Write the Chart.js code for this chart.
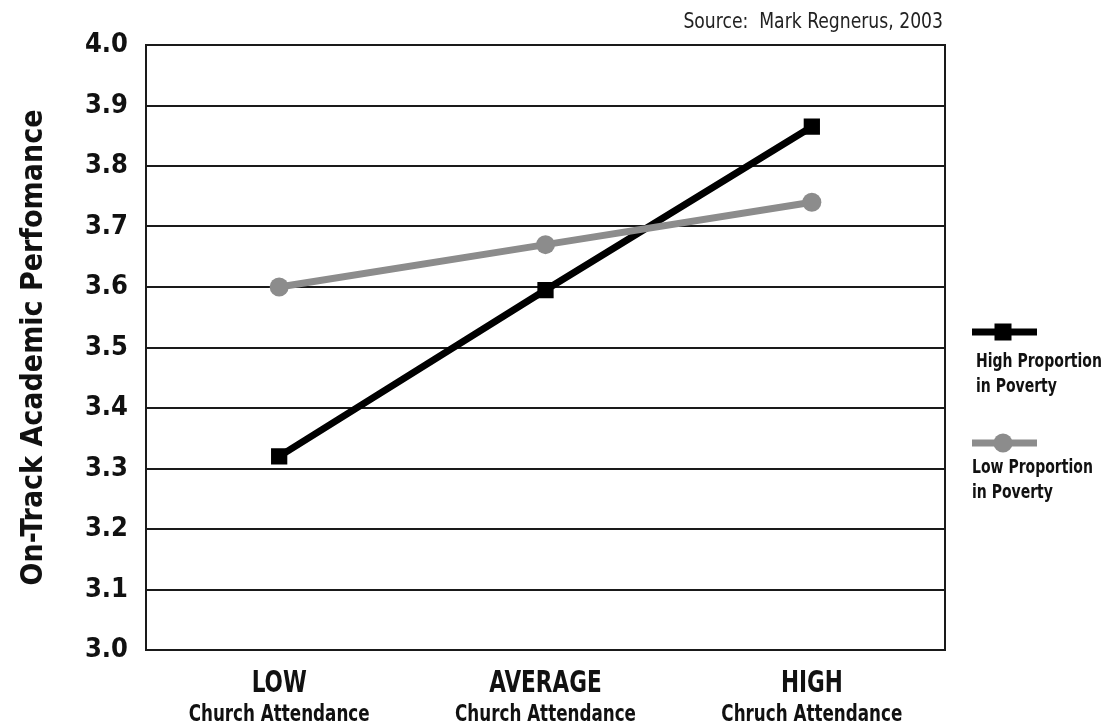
<!DOCTYPE html>
<html>
<head>
<meta charset="utf-8">
<script src="https://cdn.jsdelivr.net/npm/chart.js@4.4.1/dist/chart.umd.min.js"></script>
<style>
	html, body { margin: 0; padding: 0; background: #fff; }
	#wrap { width: 1107px; height: 726px; position: relative; }
</style>
</head>
<body>
<div id="wrap"><canvas id="myChart"></canvas></div>
<script>
	// categories and sub labels under each category
	const categories = ['LOW', 'AVERAGE', 'HIGH']
	const subLabels = ['Church Attendance', 'Church Attendance', 'Chruch Attendance']

	// series values
	const highPoverty = [3.32, 3.595, 3.865]
	const lowPoverty = [3.60, 3.67, 3.74]

	const seriesNames = [['High Proportion', 'in Poverty'], ['Low Proportion', 'in Poverty']]
	const yTitle = 'On-Track Academic Perfomance'
	const source = 'Source:  Mark Regnerus, 2003'

	const FONT = "'DejaVu Sans Condensed', 'DejaVu Sans', 'Noto Sans', sans-serif"
	const BLACK = '#000000'
	const GREY = '#8c8c8c'

	// draw text squeezed horizontally, to get close to a condensed face
	const squeezed = (ctx, text, x, y, sx, align) => {
		ctx.save()
		ctx.translate(x, y)
		ctx.scale(sx, 1)
		ctx.textAlign = align
		ctx.fillText(text, 0, 0)
		ctx.restore()
	}

	const extras = {
		id: 'extras',
		afterDraw(chart) {
			const { ctx, chartArea: a, scales } = chart
			ctx.save()

			// frame around plot
			ctx.strokeStyle = '#1a1a1a'
			ctx.lineWidth = 2
			ctx.strokeRect(a.left, a.top, a.right - a.left, a.bottom - a.top)

			// category labels
			ctx.fillStyle = '#111'
			ctx.textBaseline = 'alphabetic'
			categories.forEach((c, i) => {
				const x = scales.x.getPixelForTick(i)
				ctx.font = 'bold 30px ' + FONT
				squeezed(ctx, c, x, 692, 0.8, 'center')
				ctx.font = 'bold 23px ' + FONT
				squeezed(ctx, subLabels[i], x, 721, 0.81, 'center')
			})

			// source note
			ctx.font = '22px ' + FONT
			ctx.fillStyle = '#222'
			squeezed(ctx, source, a.right - 2, 28, 0.87, 'right')

			// legend
			const rows = [
				{ y: 332, color: BLACK, shape: 'square', textX: 976, base: 367 },
				{ y: 443, color: GREY, shape: 'circle', textX: 972, base: 473 }
			]
			rows.forEach((r, i) => {
				ctx.strokeStyle = r.color
				ctx.fillStyle = r.color
				ctx.lineWidth = 7
				ctx.beginPath()
				ctx.moveTo(972, r.y)
				ctx.lineTo(1037, r.y)
				ctx.stroke()
				if (r.shape === 'square') {
					ctx.fillRect(1003 - 8.5, r.y - 8.5, 17, 17)
				} else {
					ctx.beginPath()
					ctx.arc(1003, r.y, 9.5, 0, Math.PI * 2)
					ctx.fill()
				}
				ctx.fillStyle = '#111'
				ctx.font = 'bold 19px ' + FONT
				squeezed(ctx, seriesNames[i][0], r.textX, r.base, 0.82, 'left')
				squeezed(ctx, seriesNames[i][1], r.textX, r.base + 25, 0.82, 'left')
			})

			ctx.restore()
		}
	}

	const ctx = document.getElementById('myChart')
	// eslint-disable-next-line no-unused-vars
	const myChart = new Chart(ctx, {
		type: 'line',
		data: {
			labels: categories,
			datasets: [{
				label: seriesNames[1].join(' '),
				data: lowPoverty,
				borderColor: GREY,
				backgroundColor: GREY,
				borderWidth: 7,
				pointStyle: 'circle',
				pointRadius: 9.5,
				pointBorderWidth: 0,
				lineTension: 0
			}, {
				label: seriesNames[0].join(' '),
				data: highPoverty,
				borderColor: BLACK,
				backgroundColor: BLACK,
				borderWidth: 7,
				pointStyle: 'rect',
				pointRadius: 11.5,
				pointBorderWidth: 0,
				lineTension: 0
			}]
		},
		options: {
			responsive: true,
			maintainAspectRatio: false,
			animation: false,
			layout: {
				padding: { top: 45, right: 162, left: 0, bottom: 0 }
			},
			plugins: {
				legend: { display: false },
				tooltip: { enabled: false }
			},
			scales: {
				x: {
					offset: true,
					grid: { display: false },
					border: { display: false },
					ticks: { display: false },
					afterFit: (scale) => { scale.height = 76 }
				},
				y: {
					min: 3,
					max: 4,
					grid: { color: '#1a1a1a', lineWidth: 2, drawTicks: false },
					border: { display: true, color: '#1a1a1a', width: 2 },
					ticks: {
						stepSize: 0.1,
						padding: 18,
						color: '#111',
						font: { family: FONT, size: 27, weight: 'bold' },
						callback: (v) => v.toFixed(1)
					},
					title: {
						display: true,
						text: yTitle,
						color: '#111',
						font: { family: FONT, size: 30, weight: 'bold' },
						padding: { top: 16, bottom: 0 }
					},
					afterFit: (scale) => { scale.width = 146 }
				}
			}
		},
		plugins: [extras]
	})
</script>
</body>
</html>
